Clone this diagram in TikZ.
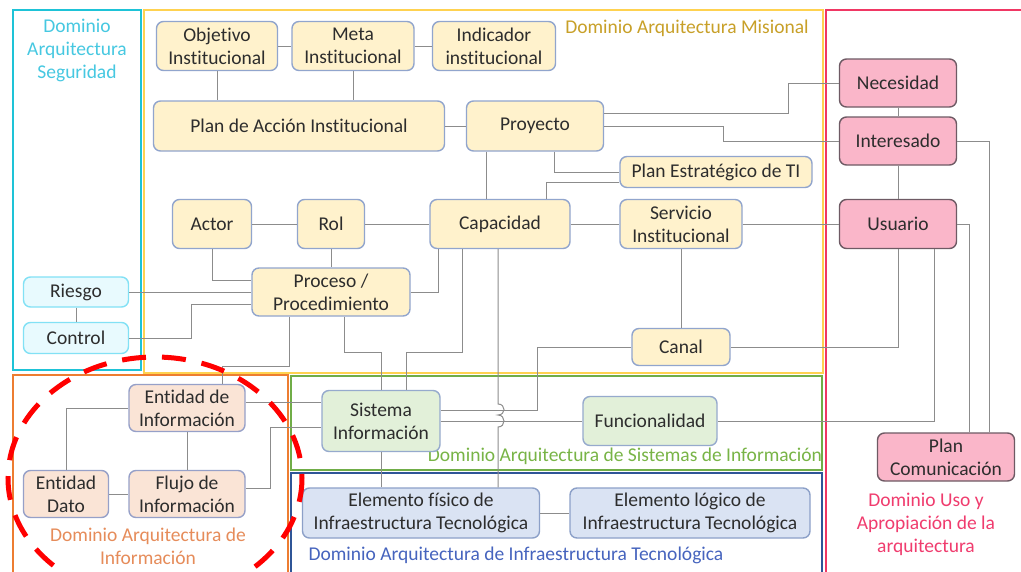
\documentclass[tikz,border=0pt]{standalone}
\usepackage{fontspec}
\setmainfont{Carlito}[Ligatures=NoCommon]

\definecolor{texto}{RGB}{45,45,45}
\definecolor{gris}{RGB}{140,140,140}
\definecolor{misfill}{RGB}{255,242,204}
\definecolor{misborde}{RGB}{145,165,205}
\definecolor{segfill}{RGB}{232,250,254}
\definecolor{segborde}{RGB}{130,225,245}
\definecolor{usofill}{RGB}{250,182,201}
\definecolor{usoborde}{RGB}{110,90,100}
\definecolor{inffill}{RGB}{250,228,214}
\definecolor{infborde}{RGB}{150,160,200}
\definecolor{sisfill}{RGB}{226,240,217}
\definecolor{sisborde}{RGB}{150,170,205}
\definecolor{tecfill}{RGB}{218,227,243}
\definecolor{tecborde}{RGB}{140,160,200}
\definecolor{segmarco}{RGB}{30,195,215}
\definecolor{mismarco}{RGB}{255,210,80}
\definecolor{usomarco}{RGB}{240,55,100}
\definecolor{infmarco}{RGB}{237,125,49}
\definecolor{sismarco}{RGB}{112,173,71}
\definecolor{tecmarco}{RGB}{47,85,151}
\definecolor{segtxt}{RGB}{70,200,225}
\definecolor{mistxt}{RGB}{200,160,40}
\definecolor{usotxt}{RGB}{240,60,110}
\definecolor{inftxt}{RGB}{230,140,90}
\definecolor{sistxt}{RGB}{120,180,70}
\definecolor{tectxt}{RGB}{70,100,190}

\tikzset{
  caja/.style={draw, rounded corners=7pt, line width=1.4pt, align=center, inner sep=0pt,
    text=texto, font=\fontsize{19.5}{23}\selectfont},
  mis/.style={caja, fill=misfill, draw=misborde},
  seg/.style={caja, fill=segfill, draw=segborde},
  uso/.style={caja, fill=usofill, draw=usoborde},
  inf/.style={caja, fill=inffill, draw=infborde},
  sis/.style={caja, fill=sisfill, draw=sisborde},
  tec/.style={caja, fill=tecfill, draw=tecborde},
  enlace/.style={draw=gris, line width=1pt},
  marco/.style={line width=2.6pt},
  rotulo/.style={align=center, font=\fontsize{19.5}{23}\selectfont}
}

\begin{document}
\begin{tikzpicture}[x=1pt, y=-1pt]
    \useasboundingbox (0,0) rectangle (1021,571);
    \fill[white] (0,0) rectangle (1021,571);

    \draw[marco, draw=segmarco] (13,10) rectangle (141,370);
    \draw[marco, draw=mismarco] (144,10) rectangle (823,373);
    \draw[marco, draw=usomarco] (826,10) rectangle (1035,585);
    \draw[marco, draw=infmarco] (13,375) rectangle (288,585);
    \draw[marco, draw=sismarco] (291,376) rectangle (822,470);
    \draw[marco, draw=tecmarco] (291,473) rectangle (822,585);

    \node[rotulo, text=segtxt] (lseg) at (77,50) {Dominio\\Arquitectura\\Seguridad};
    \node[rotulo, text=mistxt] (lmis) at (687,28) {Dominio Arquitectura Misional};
    \node[rotulo, text=usotxt] (luso) at (926,524) {Dominio Uso y\\Apropiación de la\\arquitectura};
    \node[rotulo, text=inftxt] (linf) at (148,546) {Dominio Arquitectura de\\Información};
    \node[rotulo, text=sistxt] (lsis) at (625,456) {Dominio Arquitectura de Sistemas de Información};
    \node[rotulo, text=tectxt] (ltec) at (516,555) {Dominio Arquitectura de Infraestructura Tecnológica};

    \node[mis, minimum width=121, minimum height=49] (obj) at (217,46) {Objetivo\\Institucional};
    \node[mis, minimum width=122, minimum height=49] (meta) at (353,46) {Meta\\Institucional};
    \node[mis, minimum width=123, minimum height=49] (ind) at (494,46) {Indicador\\institucional};
    \node[mis, minimum width=291, minimum height=50] (plan) at (299,126) {Plan de Acción Institucional};
    \node[mis, minimum width=137, minimum height=50] (proy) at (535,126) {Proyecto};
    \node[mis, minimum width=192, minimum height=31] (pet) at (716,172) {Plan Estratégico de TI};
    \node[mis, minimum width=79, minimum height=49] (actor) at (212,224) {Actor};
    \node[mis, minimum width=67, minimum height=49] (rol) at (331,224) {Rol};
    \node[mis, minimum width=140, minimum height=49] (cap) at (500,224) {Capacidad};
    \node[mis, minimum width=122, minimum height=49] (serv) at (681,224) {Servicio\\Institucional};
    \node[mis, minimum width=158, minimum height=48] (proc) at (331,292) {Proceso /\\Procedimiento};
    \node[mis, minimum width=98, minimum height=37] (canal) at (681,347) {Canal};

    \node[seg, minimum width=105, minimum height=30] (riesgo) at (76,292) {Riesgo};
    \node[seg, minimum width=105, minimum height=31] (control) at (76,338) {Control};

    \node[uso, minimum width=117, minimum height=48] (nec) at (898,83) {Necesidad};
    \node[uso, minimum width=117, minimum height=48] (inter) at (898,141) {Interesado};
    \node[uso, minimum width=117, minimum height=49] (usu) at (898,224) {Usuario};
    \node[uso, minimum width=137, minimum height=48] (plancom) at (946,457) {Plan\\Comunicación};

    \node[inf, minimum width=116, minimum height=47] (entinf) at (187,408) {Entidad de\\Información};
    \node[inf, minimum width=85, minimum height=47] (entdato) at (66,494) {Entidad\\Dato};
    \node[inf, minimum width=116, minimum height=47] (flujo) at (187,494) {Flujo de\\Información};

    \node[sis, minimum width=118, minimum height=61] (sist) at (381,421) {Sistema\\Información};
    \node[sis, minimum width=134, minimum height=49] (func) at (650,421) {Funcionalidad};

    \node[tec, minimum width=237, minimum height=50] (efis) at (421,513) {Elemento físico de\\Infraestructura Tecnológica};
    \node[tec, minimum width=240, minimum height=50] (elog) at (690,513) {Elemento lógico de\\Infraestructura Tecnológica};

    \draw[enlace] (obj) -- (meta);
    \draw[enlace] (meta) -- (ind);
    \draw[enlace] (obj.south) -- (obj.south |- plan.north);
    \draw[enlace] (meta.south) -- (meta.south |- plan.north);
    \draw[enlace] (plan) -- (proy);
    \draw[enlace] (proy.east |- 0,113) -| (788,83) -- (nec.west);
    \draw[enlace] (proy.east) -| (723,141) -- (inter.west);
    \draw[enlace] (proy.south -| 554,0) |- (pet.west);
    \draw[enlace] (pet.west |- 0,182) -| (cap.north -| 546,0);
    \draw[enlace] (proy.south -| 486,0) -- (cap.north -| 486,0);
    \draw[enlace] (actor) -- (rol);
    \draw[enlace] (rol) -- (cap);
    \draw[enlace] (cap) -- (serv);
    \draw[enlace] (serv) -- (usu);
    \draw[enlace] (serv) -- (canal);
    \draw[enlace] (rol) -- (proc);
    \draw[enlace] (actor.south) |- (proc.west |- 0,280);
    \draw[enlace] (riesgo) -- (proc);
    \draw[enlace] (riesgo) -- (control);
    \draw[enlace] (control) -| (191,304) -- (proc.west |- 0,304);
    \draw[enlace] (proc.east) -| (cap.south -| 438,0);
    \draw[enlace] (cap.south -| 462,0) |- (406,352) -- (sist.north -| 406,0);
    \draw[enlace] (proc.south -| 344,0) |- (sist.north |- 0,352) -- (sist.north);
    \draw[enlace] (cap.south -| 498,0) -- (498,404) .. controls (506,404) and (506,415) .. (498,415)
        .. controls (506,415) and (506,427) .. (498,427) -- (efis.north -| 498,0);
    \draw[enlace] (canal.west) -| (537,410) -- (sist.east |- 0,410);
    \draw[enlace] (sist) -- (func);
    \draw[enlace] (func.east) -| (usu.south -| 934,0);
    \draw[enlace] (usu.south) |- (canal.east);
    \draw[enlace] (usu.east) -| (plancom.north -| 969,0);
    \draw[enlace] (inter.east) -| (plancom.north -| 989,0);
    \draw[enlace] (nec) -- (inter);
    \draw[enlace] (inter) -- (usu);
    \draw[enlace] (proc.south -| 289,0) |- (222,366) -- (entinf.north -| 222,0);
    \draw[enlace] (entinf.west) -| (entdato.north);
    \draw[enlace] (entinf) -- (flujo);
    \draw[enlace] (entdato) -- (flujo);
    \draw[enlace] (flujo.east |- 0,488) -| (270,427) -- (sist.west |- 0,427);
    \draw[enlace] (entinf.east |- 0,402) -- (sist.west |- 0,402);
    \draw[enlace] (sist.south) -- (sist.south |- efis.north);
    \draw[enlace] (efis) -- (elog);

    \draw[red, line width=5pt, dash pattern=on 24pt off 16pt] (155,478) ellipse [x radius=147, y radius=121];
\end{tikzpicture}
\end{document}
